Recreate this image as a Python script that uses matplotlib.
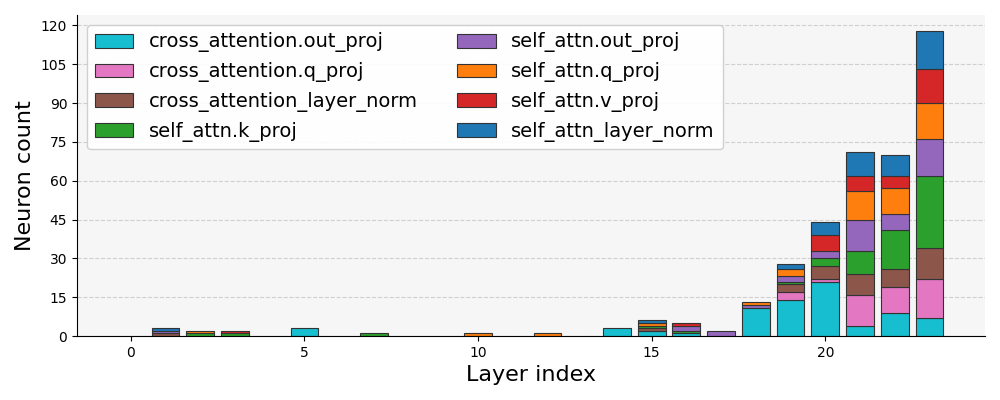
import matplotlib.pyplot as plt
import numpy as np

layers = list(range(24))
module_names = ['cross_attention.out_proj', 'cross_attention.q_proj', 'cross_attention_layer_norm',
                'self_attn.k_proj', 'self_attn.out_proj', 'self_attn.q_proj',
                'self_attn.v_proj', 'self_attn_layer_norm']
module_colors = ['#17becf', '#e377c2', '#8c564b', '#2ca02c', '#9467bd', '#ff7f0e', '#d62728', '#1f77b4']

# neuron counts per layer (0..23) for each module
cross_out = [0, 0, 0, 0, 0, 3, 0, 0, 0, 0, 0, 0, 0, 0, 3, 2, 1, 0, 11, 14, 21, 4, 9, 7]
cross_q = [0, 0, 0, 0, 0, 0, 0, 0, 0, 0, 0, 0, 0, 0, 0, 0, 0, 0, 0, 3, 1, 12, 10, 15]
cross_norm = [0, 1, 0, 0, 0, 0, 0, 0, 0, 0, 0, 0, 0, 0, 0, 1, 0, 0, 0, 3, 5, 8, 7, 12]
self_k = [0, 0, 1, 1, 0, 0, 0, 1, 0, 0, 0, 0, 0, 0, 0, 1, 1, 0, 0, 1, 3, 9, 15, 28]
self_out = [0, 1, 0, 0, 0, 0, 0, 0, 0, 0, 0, 0, 0, 0, 0, 0, 2, 2, 1, 2, 3, 12, 6, 14]
self_q = [0, 0, 1, 0, 0, 0, 0, 0, 0, 0, 1, 0, 1, 0, 0, 1, 0, 0, 1, 3, 0, 11, 10, 14]
self_v = [0, 0, 0, 1, 0, 0, 0, 0, 0, 0, 0, 0, 0, 0, 0, 0, 1, 0, 0, 0, 6, 6, 5, 13]
self_norm = [0, 1, 0, 0, 0, 0, 0, 0, 0, 0, 0, 0, 0, 0, 0, 1, 0, 0, 0, 2, 5, 9, 8, 15]

series = [cross_out, cross_q, cross_norm, self_k, self_out, self_q, self_v, self_norm]

fig, ax = plt.subplots(figsize=(10, 4), dpi=100)
fig.subplots_adjust(left=0.077, right=0.985, bottom=0.16, top=0.9625)
ax.set_facecolor('#f6f6f6')

x = np.array(layers)
bottom = np.zeros(len(layers))
for name, color, vals in zip(module_names, module_colors, series):
    vals = np.array(vals)
    keep = vals > 0  # skip empty segments so no edge lines show at zero
    ax.bar(x[keep], vals[keep], bottom=bottom[keep], color=color, edgecolor='#333333',
           linewidth=0.8, width=0.8, label=name)
    bottom += vals

ax.set_xlim(-1.55, 24.6)
ax.set_ylim(0, 124)
ax.set_yticks(range(0, 121, 15))
ax.set_xticks([0, 5, 10, 15, 20])
ax.tick_params(labelsize=10)
ax.yaxis.grid(True, linestyle='--', color='#d0d0d0', linewidth=0.8)
ax.set_axisbelow(True)
ax.spines['top'].set_visible(False)
ax.spines['right'].set_visible(False)
ax.set_xlabel('Layer index', fontsize=16)
ax.set_ylabel('Neuron count', fontsize=16)
ax.legend(loc='upper left', ncol=2, fontsize=14, framealpha=0.9)

plt.savefig('out.png')
